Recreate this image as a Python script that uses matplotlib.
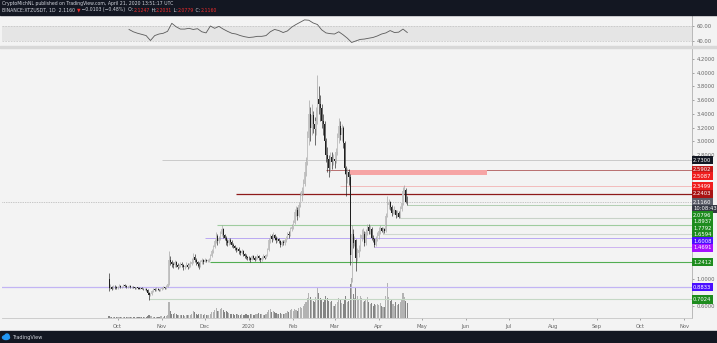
import pandas as pd
import matplotlib
matplotlib.use('Agg')
import matplotlib.pyplot as plt
import matplotlib.dates as mdates
import matplotlib.transforms as mtransforms
from matplotlib.patches import Rectangle, Ellipse

W, H = 717, 343

# BINANCE:XTZUSDT daily candles, 25 Sep 2019 - 21 Apr 2020
first_open = 1.00
sep_close = [0.87, 0.88, 0.86, 0.89, 0.88, 0.87]
sep_high = [1.08, 0.92, 0.90, 0.91, 0.91, 0.90]
sep_low = [0.83, 0.85, 0.84, 0.85, 0.86, 0.85]
oct_close = [0.89, 0.90, 0.88, 0.89, 0.91, 0.90, 0.88, 0.89, 0.90, 0.88, 0.89, 0.88, 0.87, 0.88, 0.87, 0.86,
             0.87, 0.86, 0.85, 0.86, 0.84, 0.80, 0.76, 0.78, 0.82, 0.85, 0.84, 0.86, 0.85, 0.84, 0.85]
oct_high = [0.90, 0.92, 0.91, 0.90, 0.93, 0.92, 0.91, 0.90, 0.91, 0.91, 0.90, 0.90, 0.89, 0.89, 0.89, 0.88,
            0.88, 0.88, 0.87, 0.87, 0.87, 0.85, 0.81, 0.80, 0.84, 0.87, 0.87, 0.88, 0.87, 0.86, 0.87]
oct_low = [0.86, 0.88, 0.87, 0.87, 0.88, 0.89, 0.87, 0.87, 0.88, 0.87, 0.87, 0.87, 0.86, 0.86, 0.86, 0.85,
           0.85, 0.85, 0.84, 0.84, 0.83, 0.79, 0.70, 0.75, 0.77, 0.81, 0.83, 0.83, 0.84, 0.83, 0.83]
nov_close = [0.87, 0.88, 0.87, 0.89, 0.92, 1.27, 1.24, 1.22, 1.20, 1.24, 1.21, 1.18, 1.19, 1.22, 1.20,
             1.17, 1.19, 1.21, 1.18, 1.20, 1.22, 1.25, 1.32, 1.28, 1.24, 1.22, 1.19, 1.24, 1.27, 1.25]
nov_high = [0.89, 0.90, 0.89, 0.91, 0.94, 1.41, 1.33, 1.28, 1.25, 1.27, 1.26, 1.23, 1.22, 1.25, 1.24,
            1.22, 1.21, 1.24, 1.23, 1.23, 1.26, 1.30, 1.38, 1.36, 1.30, 1.26, 1.25, 1.27, 1.30, 1.29]
nov_low = [0.84, 0.86, 0.85, 0.86, 0.88, 0.91, 1.20, 1.18, 1.16, 1.18, 1.18, 1.15, 1.16, 1.17, 1.17,
           1.13, 1.15, 1.17, 1.15, 1.16, 1.18, 1.20, 1.23, 1.25, 1.20, 1.18, 1.15, 1.17, 1.22, 1.22]
dec_close = [1.27, 1.26, 1.27, 1.28, 1.33, 1.40, 1.47, 1.55, 1.62, 1.55, 1.60, 1.66, 1.72, 1.64, 1.60, 1.55,
             1.52, 1.57, 1.54, 1.50, 1.48, 1.45, 1.42, 1.44, 1.40, 1.38, 1.40, 1.36, 1.34, 1.32, 1.31]
dec_high = [1.31, 1.29, 1.29, 1.31, 1.36, 1.43, 1.50, 1.58, 1.68, 1.65, 1.63, 1.70, 1.78, 1.74, 1.66, 1.63,
            1.58, 1.60, 1.59, 1.56, 1.52, 1.50, 1.47, 1.47, 1.46, 1.42, 1.43, 1.42, 1.38, 1.37, 1.34]
dec_low = [1.24, 1.24, 1.25, 1.25, 1.27, 1.32, 1.38, 1.45, 1.52, 1.50, 1.52, 1.57, 1.63, 1.60, 1.57, 1.50,
           1.48, 1.50, 1.51, 1.47, 1.45, 1.42, 1.39, 1.40, 1.37, 1.35, 1.36, 1.34, 1.31, 1.29, 1.28]
jan_close = [1.30, 1.28, 1.33, 1.31, 1.28, 1.30, 1.33, 1.30, 1.27, 1.31, 1.33, 1.31, 1.34, 1.42, 1.56, 1.62,
             1.58, 1.64, 1.60, 1.56, 1.58, 1.55, 1.50, 1.54, 1.52, 1.56, 1.60, 1.66, 1.64, 1.72, 1.76]
jan_high = [1.33, 1.32, 1.35, 1.35, 1.33, 1.33, 1.36, 1.35, 1.31, 1.33, 1.36, 1.35, 1.36, 1.45, 1.60, 1.66,
            1.65, 1.68, 1.66, 1.62, 1.61, 1.60, 1.56, 1.56, 1.56, 1.58, 1.63, 1.69, 1.70, 1.75, 1.80]
jan_low = [1.28, 1.25, 1.27, 1.29, 1.26, 1.27, 1.29, 1.28, 1.24, 1.26, 1.29, 1.29, 1.30, 1.33, 1.40, 1.52,
           1.54, 1.56, 1.57, 1.52, 1.54, 1.52, 1.47, 1.48, 1.49, 1.50, 1.54, 1.58, 1.60, 1.62, 1.70]
feb_close = [1.82, 1.98, 2.00, 1.92, 2.08, 2.20, 2.28, 2.38, 2.55, 2.70, 3.05, 3.40, 3.20, 3.38, 3.25,
             3.18, 3.30, 3.62, 3.55, 3.48, 3.30, 3.25, 3.00, 2.80, 2.75, 2.62, 2.78, 2.70, 2.74]
feb_high = [1.86, 2.02, 2.06, 2.04, 2.12, 2.26, 2.34, 2.45, 2.62, 2.78, 3.15, 3.60, 3.50, 3.55, 3.45,
            3.35, 3.50, 3.97, 3.80, 3.68, 3.55, 3.40, 3.30, 3.05, 2.92, 2.80, 2.85, 2.85, 2.82]
feb_low = [1.72, 1.80, 1.92, 1.86, 1.90, 2.04, 2.14, 2.22, 2.35, 2.50, 2.66, 2.95, 3.00, 3.10, 3.12,
           2.95, 3.10, 3.25, 3.40, 3.30, 3.20, 3.10, 2.95, 2.70, 2.55, 2.48, 2.55, 2.60, 2.66]
mar_close = [2.72, 2.85, 3.05, 3.22, 3.10, 3.20, 2.98, 2.62, 2.52, 2.55, 2.48, 1.35, 1.65, 1.52, 1.56, 1.30,
             1.38, 1.42, 1.60, 1.64, 1.66, 1.52, 1.68, 1.75, 1.70, 1.72, 1.60, 1.58, 1.50, 1.58, 1.62]
mar_high = [2.80, 2.90, 3.12, 3.34, 3.30, 3.26, 3.22, 3.00, 2.65, 2.62, 2.60, 2.52, 1.78, 1.72, 1.62, 1.58,
            1.45, 1.50, 1.66, 1.72, 1.74, 1.70, 1.72, 1.80, 1.80, 1.78, 1.76, 1.64, 1.60, 1.62, 1.68]
mar_low = [2.62, 2.68, 2.80, 2.98, 3.02, 3.00, 2.90, 2.52, 2.20, 2.40, 2.36, 1.20, 0.95, 1.45, 1.48, 1.12,
           1.26, 1.32, 1.40, 1.55, 1.58, 1.48, 1.50, 1.64, 1.65, 1.66, 1.56, 1.54, 1.47, 1.48, 1.55]
apr_close = [1.70, 1.74, 1.70, 1.72, 1.70, 1.92, 2.08, 2.12, 2.05, 1.96, 1.98, 2.00, 1.93, 1.96, 1.90,
             2.02, 2.10, 2.28, 2.30, 2.1263, 2.1160]
apr_high = [1.76, 1.78, 1.76, 1.75, 1.74, 1.96, 2.21, 2.16, 2.14, 2.08, 2.02, 2.06, 2.01, 2.00, 1.99,
            2.06, 2.14, 2.34, 2.37, 2.32, 2.2031]
apr_low = [1.58, 1.66, 1.68, 1.66, 1.67, 1.69, 1.90, 2.02, 2.01, 1.92, 1.94, 1.95, 1.88, 1.90, 1.89,
           1.89, 1.99, 2.08, 2.24, 2.10, 2.0779]
last_open = 2.1247

# volume, millions of XTZ
sep_vol = [2.0, 1.2, 1.0, 0.9, 1.1, 1.0]
oct_vol = [1.0, 0.9, 0.8, 0.9, 1.0, 0.8, 0.9, 1.0, 0.9, 0.8, 0.9, 0.8, 0.7, 0.8, 0.9, 0.8,
           0.9, 1.0, 0.8, 0.9, 1.1, 1.6, 2.4, 1.8, 1.5, 1.2, 1.0, 1.1, 1.2, 1.0, 1.3]
nov_vol = [1.4, 1.2, 1.3, 1.6, 2.2, 13.0, 5.5, 3.6, 3.0, 3.8, 3.2, 2.6, 2.4, 2.8, 2.5,
           2.2, 2.0, 2.6, 2.4, 2.2, 2.5, 3.4, 6.0, 4.5, 3.6, 2.8, 3.2, 3.0, 3.4, 2.8]
dec_vol = [3.0, 2.6, 2.4, 2.8, 3.6, 4.5, 5.0, 6.5, 7.8, 6.0, 5.5, 7.0, 8.0, 6.2, 5.0, 5.5,
           4.6, 4.0, 3.6, 3.4, 3.0, 2.8, 3.2, 3.0, 2.6, 2.4, 3.0, 2.6, 2.5, 3.0, 2.7]
jan_vol = [2.5, 3.0, 3.4, 2.6, 2.4, 3.0, 3.6, 4.0, 3.0, 3.2, 2.8, 2.6, 3.0, 4.5, 6.8, 7.0,
           5.2, 5.6, 4.6, 3.8, 3.6, 3.4, 4.0, 3.2, 3.0, 3.4, 4.2, 6.0, 4.8, 6.4, 7.2]
feb_vol = [6.0, 7.5, 6.4, 5.8, 8.0, 9.0, 8.2, 9.4, 11.0, 12.5, 16.0, 20.0, 17.0, 15.5, 14.0,
           13.0, 16.5, 24.0, 20.0, 16.0, 14.5, 13.0, 15.5, 18.0, 16.0, 14.0, 12.5, 13.5, 10.0]
mar_vol = [9.5, 11.0, 13.0, 16.0, 15.0, 12.0, 11.5, 15.5, 18.0, 13.0, 14.0, 27.0, 32.0, 19.0, 16.0, 24.0,
           17.5, 15.0, 18.0, 16.0, 13.0, 14.0, 15.5, 16.5, 12.5, 11.0, 12.0, 10.0, 11.5, 10.5, 11.0]
apr_vol = [10.5, 12.0, 9.5, 9.0, 8.5, 18.0, 28.0, 17.0, 14.0, 15.0, 11.0, 10.0, 12.5, 10.5, 11.0,
           13.0, 15.0, 20.0, 16.5, 13.5, 12.0]

# oscillator, one reading every third day from 9 Oct 2019
rsi_vals = [55.4, 52.3, 50.3, 48.8, 47.2, 40.6, 47.2, 49.3, 50.3, 52.9, 63.6, 59.0, 55.9, 55.9, 56.9,
            55.4, 56.4, 52.3, 50.8, 60.0, 56.9, 59.5, 55.9, 52.9, 50.3, 49.3, 47.2, 45.7, 44.7, 45.2,
            46.2, 46.2, 47.2, 52.3, 55.4, 53.9, 51.3, 53.4, 58.5, 62.0, 65.1, 68.2, 67.7, 64.1, 62.0,
            54.9, 50.8, 49.8, 49.3, 52.3, 48.3, 43.7, 38.0, 40.1, 42.1, 42.6, 43.7, 44.7, 46.7, 49.3,
            50.8, 53.9, 51.3, 51.8, 55.9, 51.3]
rsi_band = (40, 60)

# drawn levels: price, start date, line colour, width, label colour
levels = [
    (2.7300, '2019-11-01', '#c4c4c4', 0.6, '#131722'),
    (2.5902, '2020-02-24', '#b05a5a', 0.6, '#c41919'),
    (2.5087, None, None, 0, '#f01d1d'),
    (2.3499, '2020-03-05', '#f2b3b3', 0.6, '#f01d1d'),
    (2.2403, '2019-12-23', '#8e1a1a', 0.9, '#a81414'),
    (2.0796, '2020-04-21', '#a8c8a8', 0.6, '#1e8c1e'),
    (1.8937, '2020-04-16', '#c8d2c8', 0.8, '#1e8c1e'),
    (1.7792, '2019-12-10', '#9fcc9f', 0.8, '#1e8c1e'),
    (1.6594, '2020-04-04', '#cfd8cf', 0.8, '#1e8c1e'),
    (1.6008, '2019-12-01', '#baa8f2', 0.7, '#4a0fff'),
    (1.4691, '2020-03-29', '#cdb4f0', 0.7, '#a510ff'),
    (1.2412, '2019-12-05', '#52ad52', 0.8, '#1e8c1e'),
    (0.8833, '2019-07-01', '#c2b4f4', 0.9, '#4a0fff'),
    (0.7024, '2019-10-23', '#c5d8c5', 0.8, '#1e8c1e'),
]
zone = (2.5087, 2.5902, '2020-03-12', '2020-06-16')
countdown = '10:08:43'

closes = sep_close + oct_close + nov_close + dec_close + jan_close + feb_close + mar_close + apr_close
highs = sep_high + oct_high + nov_high + dec_high + jan_high + feb_high + mar_high + apr_high
lows = sep_low + oct_low + nov_low + dec_low + jan_low + feb_low + mar_low + apr_low
vols = sep_vol + oct_vol + nov_vol + dec_vol + jan_vol + feb_vol + mar_vol + apr_vol
opens = [first_open] + closes[:-1]
opens[-1] = last_open
days = pd.date_range('2019-09-25', periods=len(closes), freq='D')
xd = mdates.date2num(days)
rsi_days = mdates.date2num(pd.date_range('2019-10-09', periods=len(rsi_vals), freq='3D'))

BG = '#f3f3f3'
DARK = '#131722'
xlim = (mdates.date2num(pd.Timestamp('2019-07-12')), mdates.date2num(pd.Timestamp('2020-11-06 12:00')))
ylim = (0.4327, 4.36)

fig = plt.figure(figsize=(W / 100, H / 100), dpi=100, facecolor=BG)


def box(top, bottom, left=2, right=692):
    return [left / W, 1 - bottom / H, (right - left) / W, (bottom - top) / H]


# dark header and footer strips
fig.patches.append(Rectangle((0, 1 - 15 / H), 1, 15 / H, transform=fig.transFigure, color=DARK, zorder=0))
fig.patches.append(Rectangle((0, 0), 1, 12 / H, transform=fig.transFigure, color=DARK, zorder=0))
fig.patches.append(Rectangle((0, 1 - 48 / H), 1, 2 / H, transform=fig.transFigure, color='#d8d8d8', zorder=0))

# oscillator pane
rsi_ax = fig.add_axes(box(15, 46))
rsi_ax.set_facecolor(BG)
rsi_ax.axhspan(*rsi_band, color='#e5e5e5', lw=0)
for lv in rsi_band:
    rsi_ax.axhline(lv, color='#b8b8b8', lw=0.4, ls=(0, (3, 2)))
rsi_ax.plot(rsi_days, rsi_vals, color='#5a5a5a', lw=0.6)
rsi_ax.set_xlim(xlim)
rsi_ax.set_ylim(33.3, 74.7)
rsi_ax.set_xticks([])
rsi_ax.yaxis.tick_right()
rsi_ax.set_yticks(list(rsi_band), [f'{v:.2f}' for v in rsi_band])
rsi_ax.tick_params(axis='y', labelsize=3.8, colors='#666666', length=1.5, width=0.4, pad=2)
for s in rsi_ax.spines.values():
    s.set_visible(False)
rsi_ax.spines['right'].set_visible(True)
rsi_ax.spines['right'].set_color('#b0b0b0')
rsi_ax.spines['right'].set_linewidth(0.6)

# volume underneath the candles
vol_ax = fig.add_axes(box(48, 318))
vol_ax.set_facecolor(BG)
vol_colors = ['#b3b3b3' if c >= o else '#858585' for o, c in zip(opens, closes)]
vol_ax.bar(xd, vols, width=0.75, color=vol_colors, lw=0)
vol_ax.set_xlim(xlim)
vol_ax.set_ylim(0, max(vols) * 6.75)
vol_ax.axis('off')

ax = fig.add_axes(box(48, 318))
ax.patch.set_visible(False)
ax.set_xlim(xlim)
ax.set_ylim(ylim)

# levels and the resistance zone
x_right = xlim[1]
for price, start, lc, lw, _ in levels:
    if start is None:
        continue
    x0 = mdates.date2num(pd.Timestamp(start))
    ax.hlines(price, x0, x_right, color=lc, lw=lw, zorder=2)
z0, z1 = mdates.date2num(pd.Timestamp(zone[2])), mdates.date2num(pd.Timestamp(zone[3]))
ax.add_patch(Rectangle((z0, zone[0]), z1 - z0, zone[1] - zone[0], color='#f6a5a5', lw=0, zorder=2))
ax.axhline(closes[-1], color='#9a9a9a', lw=0.5, ls=(0, (1, 1.5)), zorder=2)

# candles: light bodies for up days, black for down days
for x, o, h, l, c in zip(xd, opens, highs, lows, closes):
    up = c >= o
    body = '#c4c4c4' if up else '#1f1f1f'
    wick = '#9d9d9d' if up else '#1f1f1f'
    ax.vlines(x, min(l, o, c), max(h, o, c), color=wick, lw=0.45, zorder=3)
    ax.bar(x, max(abs(c - o), 0.006), bottom=min(o, c), width=0.72, color=body, lw=0, zorder=4)

# axes cosmetics
for s in ax.spines.values():
    s.set_visible(False)
ax.spines['right'].set_visible(True)
ax.spines['right'].set_color('#b0b0b0')
ax.spines['right'].set_linewidth(0.6)
ax.spines['bottom'].set_visible(True)
ax.spines['bottom'].set_color('#c6c6c6')
ax.spines['bottom'].set_linewidth(0.6)
ax.yaxis.tick_right()
yt = [0.6, 1.0, 2.8, 3.0, 3.2, 3.4, 3.6, 3.8, 4.0, 4.2]
ax.set_yticks(yt, [f'{v:.4f}' for v in yt])
ax.tick_params(axis='y', labelsize=3.8, colors='#666666', length=1.5, width=0.4, pad=2)

month_ticks = pd.date_range('2019-10-01', '2020-11-01', freq='MS')
month_labels = ['2020' if d.month == 1 else d.strftime('%b') for d in month_ticks]
ax.set_xticks(mdates.date2num(month_ticks), month_labels)
ax.tick_params(axis='x', labelsize=3.8, colors='#666666', length=1.5, width=0.4, pad=3)

# price scale labels, stacked so they do not overlap
blend = mtransforms.blended_transform_factory(ax.transAxes, ax.transData)
px_per_unit = 270 / (ylim[1] - ylim[0])
gap = 6.5 / px_per_unit
tags = [(p, f'{p:.4f}', lc) for p, _, _, _, lc in levels]
tags.append((closes[-1], f'{closes[-1]:.4f}', '#5d606b'))
tags.append((closes[-1] - 1e-4, countdown, '#363a45'))
prev = None
for p, txt, fc in sorted(tags, key=lambda t: -t[0]):
    y = p if prev is None else min(p, prev - gap)
    ax.text(1.0016, y, txt, transform=blend, fontsize=3.8, color='white', ha='left', va='center',
            zorder=6, clip_on=False,
            bbox=dict(boxstyle='square,pad=0.3', fc=fc, ec='none'))
    prev = y

# header
prev_close = closes[-2]
chg = closes[-1] - prev_close
fig.text(2 / W, 1 - 4 / H, 'CryptoMichNL published on TradingView.com, April 21, 2020 13:51:17 UTC',
         fontsize=3.3, color='#d1d4dc', va='center')
pieces = [
    (f'BINANCE:XTZUSDT, 1D  {closes[-1]:.4f} ', '#d1d4dc'),
    ('\u25bc', '#ef2b2b'),
    (f' \u2212{abs(chg):.4f} (\u2212{abs(chg) / prev_close * 100:.2f}%)  O:', '#d1d4dc'),
    (f'{opens[-1]:.4f}', '#ef2b2b'),
    (' H:', '#d1d4dc'),
    (f'{highs[-1]:.4f}', '#ef2b2b'),
    (' L:', '#d1d4dc'),
    (f'{lows[-1]:.4f}', '#ef2b2b'),
    (' C:', '#d1d4dc'),
    (f'{closes[-1]:.4f}', '#ef2b2b'),
]
renderer = fig.canvas.get_renderer()
xpos = 2 / W
for txt, col in pieces:
    t = fig.text(xpos, 1 - 10 / H, txt, fontsize=3.3, color=col, va='center')
    xpos += t.get_window_extent(renderer).width / W

# footer logo
fig.patches.append(Ellipse((6 / W, 5.5 / H), 7 / W, 4 / H, transform=fig.transFigure, color='#2196f3'))
fig.patches.append(Ellipse((7 / W, 7 / H), 4 / W, 4 / H, transform=fig.transFigure, color='#2196f3'))
fig.text(12 / W, 6 / H, 'TradingView', fontsize=3.6, color='#d1d4dc', va='center')

fig.savefig('out.png', dpi=100, facecolor=BG)
